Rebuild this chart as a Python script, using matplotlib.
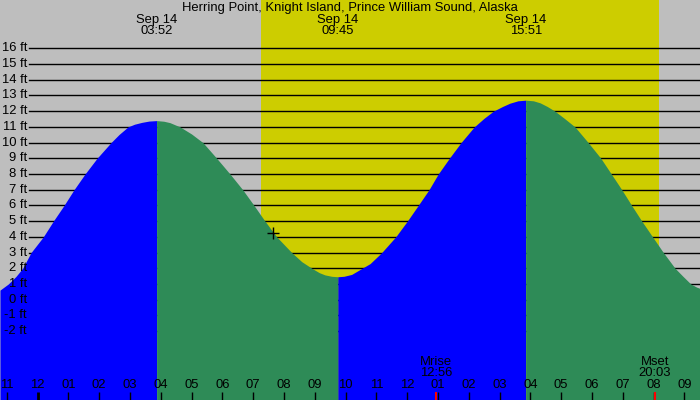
import matplotlib
matplotlib.use("Agg")
import matplotlib.pyplot as plt
from matplotlib.transforms import blended_transform_factory

plt.rcParams['font.family'] = ['Liberation Sans', 'DejaVu Sans']

title = "Herring Point, Knight Island, Prince William Sound, Alaska"
date_label = "Sep 14"

# Tide curve: hours after midnight Sep 14, height in ft
tide_hours = [-1.218, -0.948, -0.7, -0.481, -0.21, 0.188, 0.513, 0.860, 1.185, 1.542, 1.932,
              2.386, 2.65, 2.938, 3.15, 3.393, 3.62, 3.8667,
              4.1, 4.30, 4.627, 5.0, 5.37, 5.818, 6.250, 6.662, 7.029, 7.386, 7.766, 8.253,
              8.58, 8.922, 9.15, 9.33, 9.55, 9.75,
              9.95, 10.2, 10.47, 10.8, 11.175, 11.63, 12.006, 12.36, 12.71, 13.01, 13.37, 13.75,
              14.18, 14.5, 14.80, 15.1, 15.34, 15.6, 15.85,
              16.1, 16.32, 16.55, 16.80, 17.1, 17.45, 17.88, 18.29, 18.63, 18.97, 19.29, 19.62,
              19.97, 20.32, 20.70, 20.95, 21.21, 21.4, 21.51]
tide_ft = [0.61, 1.0, 1.48, 2.0, 3.0, 4.0, 5.0, 6.0, 7.0, 8.0, 9.0,
           10.0, 10.52, 11.0, 11.17, 11.29, 11.37, 11.4,
           11.36, 11.27, 11.0, 10.55, 10.0, 9.0, 8.0, 7.0, 6.0, 5.0, 4.0, 3.0,
           2.42, 1.98, 1.72, 1.58, 1.49, 1.46,
           1.49, 1.61, 1.92, 2.3, 3.0, 4.0, 5.0, 6.0, 7.0, 8.0, 9.0, 10.0,
           11.0, 11.55, 12.0, 12.3, 12.51, 12.66, 12.7,
           12.66, 12.53, 12.3, 12.0, 11.55, 11.0, 10.0, 9.0, 8.0, 7.0, 6.0, 5.0,
           4.0, 3.0, 2.0, 1.5, 1.0, 0.8, 0.72]

# Tide extremes (labelled at top)
extreme_times = ["03:52", "09:45", "15:51"]

# Sun / moon
sunrise = "07:15"
sunset = "20:11"
moonrise = "12:56"
moonset = "20:03"

# Current time marker
now_time = "07:39"
now_ft = 4.26

y_levels = list(range(-2, 17))
hour_ticks = list(range(-1, 22))
hour_labels = ["11", "12", "01", "02", "03", "04", "05", "06", "07", "08", "09", "10",
               "11", "12", "01", "02", "03", "04", "05", "06", "07", "08", "09"]


def to_h(s):
    h, m = s.split(":")
    return int(h) + int(m) / 60.0


W, H = 700, 400
PX_PER_H = 30.8
X0 = 37.5
PX_PER_FT = 15.71
Y0 = 299.7
xmin = -X0 / PX_PER_H
xmax = (W - X0) / PX_PER_H
ymax = Y0 / PX_PER_FT
ymin = (Y0 - H) / PX_PER_FT

GRAY = "#bebebe"
YELLOW = "#cdcd00"
BLUE = "#0000ff"
GREEN = "#2e8b57"

fig = plt.figure(figsize=(7, 4), dpi=100)
fig.patch.set_facecolor(GRAY)
ax = fig.add_axes([0, 0, 1, 1])
ax.set_xlim(xmin, xmax)
ax.set_ylim(ymin, ymax)
ax.set_facecolor(GRAY)
ax.axis("off")

# daylight
ax.axvspan(to_h(sunrise), to_h(sunset), color=YELLOW, lw=0, zorder=0)

# grid lines
for v in y_levels:
    ax.axhline(v, xmin=29 / W, xmax=1, color="black", lw=1.0, zorder=1)

# tide fill, coloured by rising/falling between extremes
bounds = [tide_hours[0]] + [to_h(t) for t in extreme_times] + [tide_hours[-1]]
for a, b in zip(bounds[:-1], bounds[1:]):
    sel = [(h, f) for h, f in zip(tide_hours, tide_ft) if a - 0.01 <= h <= b + 0.01]
    xs = [p[0] for p in sel]
    ys = [p[1] for p in sel]
    col = BLUE if ys[-1] > ys[0] else GREEN
    ax.fill_between(xs, ys, ymin, color=col, lw=0, zorder=2)

# current time marker
ax.plot([to_h(now_time)], [now_ft], marker="+", color="black", ms=9, mew=1.0, zorder=4)

fs = 9.4
ax_tr = blended_transform_factory(ax.transAxes, ax.transData)
for v in y_levels:
    ax.text(27 / W, v, f"{v} ft", transform=ax_tr, ha="right", va="center",
            fontsize=fs, color="black", zorder=5)

top_tr = blended_transform_factory(ax.transData, ax.transAxes)
ax.text(0.5, 1 - 7.5 / H, title, transform=ax.transAxes, ha="center", va="center",
        fontsize=fs, color="black", zorder=5)
for t in extreme_times:
    ax.text(to_h(t), 1 - 20 / H, date_label, transform=top_tr, ha="center", va="center",
            fontsize=fs, zorder=5)
    ax.text(to_h(t), 1 - 31.5 / H, t, transform=top_tr, ha="center", va="center",
            fontsize=fs, zorder=5)

# hour labels and ticks
for h, lab in zip(hour_ticks, hour_labels):
    ax.text(h, 14.5 / H, lab, transform=top_tr, ha="center", va="center", fontsize=fs, zorder=5)
    ax.plot([h, h], [0, 8 / H], transform=top_tr, color="black",
            lw=2.0 if h % 24 == 0 else 1.0, zorder=5, solid_capstyle="butt")

for name, t in (("Mrise", moonrise), ("Mset", moonset)):
    ax.text(to_h(t), 38.3 / H, name, transform=top_tr, ha="center", va="center", fontsize=fs, zorder=5)
    ax.text(to_h(t), 26.7 / H, t, transform=top_tr, ha="center", va="center", fontsize=fs, zorder=5)
    ax.plot([to_h(t), to_h(t)], [0, 8 / H], transform=top_tr, color="red", lw=1.5, zorder=6,
            solid_capstyle="butt")

fig.savefig("out.png", dpi=100, facecolor=GRAY)
